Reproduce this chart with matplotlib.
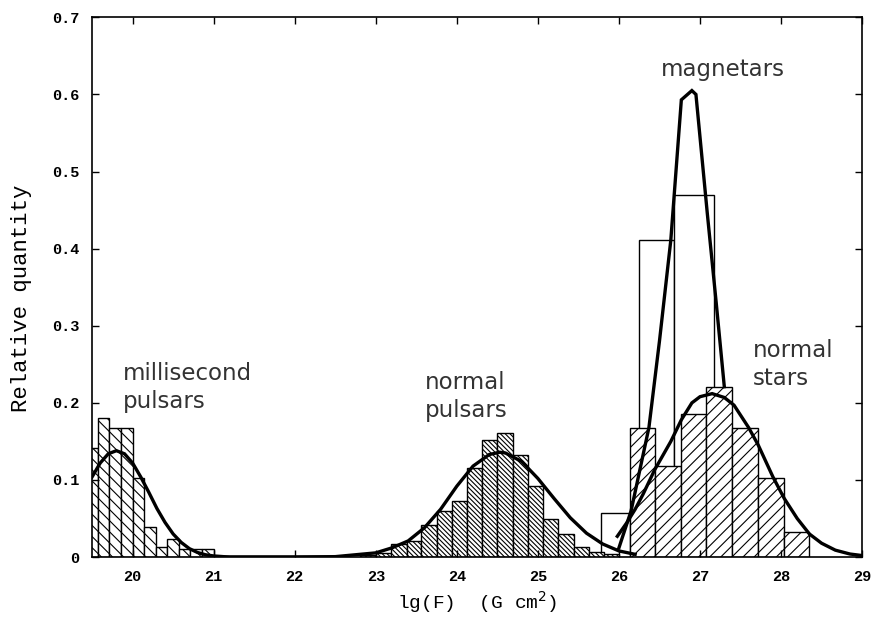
import numpy as np
import matplotlib
matplotlib.use('Agg')
import matplotlib.pyplot as plt

# histogram data (relative quantity per bin)
msp_edges = [19.429, 19.571, 19.714, 19.857, 20.0, 20.143, 20.286, 20.429, 20.571, 20.714, 20.857, 21.0]
msp_values = [0.141, 0.181, 0.168, 0.168, 0.102, 0.039, 0.0125, 0.024, 0.011, 0.011, 0.011]

psr_edges = [22.81, 23.0, 23.19, 23.38, 23.56, 23.75, 23.94, 24.13, 24.31, 24.5,
             24.69, 24.88, 25.06, 25.25, 25.44, 25.63, 25.81, 26.0]
psr_values = [0.003, 0.005, 0.017, 0.021, 0.041, 0.06, 0.073, 0.116, 0.152, 0.161,
              0.132, 0.092, 0.05, 0.030, 0.013, 0.007, 0.004]

mag_left = [25.78, 26.25, 26.68]
mag_right = [26.14, 26.68, 27.17]
mag_values = [0.0575, 0.411, 0.469]

star_edges = [26.14, 26.45, 26.77, 27.08, 27.40, 27.72, 28.04, 28.35]
star_values = [0.168, 0.118, 0.186, 0.22, 0.168, 0.102, 0.033]

# fitted curves
msp_fit_x = [19.5, 19.6, 19.7, 19.8, 19.9, 20.0, 20.1, 20.2, 20.3, 20.4, 20.5,
             20.6, 20.7, 20.8, 20.9, 21.0, 21.2, 22.0, 22.6]
msp_fit_y = [0.104, 0.122, 0.134, 0.138, 0.134, 0.122, 0.104, 0.084, 0.063, 0.045, 0.030,
             0.019, 0.011, 0.006, 0.003, 0.0015, 0.0, 0.0, 0.0]

psr_fit_x = [21.0, 22.0, 22.5, 23.0, 23.2, 23.4, 23.6, 23.8, 24.0, 24.2, 24.4, 24.53,
             24.6, 24.8, 25.0, 25.2, 25.4, 25.6, 25.8, 26.0, 26.2]
psr_fit_y = [0.0, 0.0, 0.0006, 0.0055, 0.012, 0.021, 0.038, 0.062, 0.092, 0.118, 0.133, 0.136,
             0.135, 0.124, 0.102, 0.076, 0.051, 0.031, 0.017, 0.008, 0.0036]

mag_fit_x = [26.0, 26.15, 26.37, 26.5, 26.64, 26.77, 26.9, 26.95, 27.09, 27.2, 27.3]
mag_fit_y = [0.012, 0.06, 0.168, 0.28, 0.411, 0.593, 0.605, 0.6, 0.446, 0.33, 0.221]

star_fit_x = [25.98, 26.1, 26.2, 26.3, 26.44, 26.64, 26.77, 26.9, 27.0, 27.15, 27.3, 27.42,
              27.6, 27.72, 27.9, 28.04, 28.2, 28.35, 28.5, 28.67, 28.85, 29.0]
star_fit_y = [0.027, 0.045, 0.062, 0.082, 0.113, 0.15, 0.178, 0.2, 0.208, 0.212, 0.207, 0.197,
              0.168, 0.145, 0.104, 0.076, 0.05, 0.03, 0.018, 0.009, 0.004, 0.002]

x_ticks = [20, 21, 22, 23, 24, 25, 26, 27, 28, 29]
y_ticks = [0, 0.1, 0.2, 0.3, 0.4, 0.5, 0.6, 0.7]
y_tick_labels = ['0', '0.1', '0.2', '0.3', '0.4', '0.5', '0.6', '0.7']

plt.rcParams['hatch.linewidth'] = 0.8
fig = plt.figure(figsize=(8.77, 6.19), dpi=100)
ax = fig.add_axes([0.105, 0.1, 0.878, 0.872])


def draw_bars(edges, values, hatch):
    edges = np.asarray(edges)
    ax.bar(edges[:-1], values, width=np.diff(edges), align='edge',
           facecolor='white', edgecolor='black', linewidth=1.0, hatch=hatch)


ax.bar(mag_left, mag_values, width=np.subtract(mag_right, mag_left), align='edge',
       facecolor='white', edgecolor='black', linewidth=1.0)
draw_bars(msp_edges, msp_values, '\\\\\\')
draw_bars(psr_edges, psr_values, '\\' * 7)
draw_bars(star_edges, star_values, '///')

for fx, fy in [(msp_fit_x, msp_fit_y), (psr_fit_x, psr_fit_y),
               (mag_fit_x, mag_fit_y), (star_fit_x, star_fit_y)]:
    ax.plot(fx, fy, color='black', linewidth=2.4, solid_joinstyle='miter')

# labels of the populations
label_font = dict(fontsize=16.5, color='#333333', family='DejaVu Sans', linespacing=1.25)
ax.text(19.88, 0.22, 'millisecond\npulsars', ha='left', va='center', **label_font)
ax.text(23.6, 0.208, 'normal\npulsars', ha='left', va='center', **label_font)
ax.text(26.52, 0.632, 'magnetars', ha='left', va='center', **label_font)
ax.text(27.65, 0.25, 'normal\nstars', ha='left', va='center', **label_font)

ax.set_xlim(19.5, 29)
ax.set_ylim(0, 0.7)
ax.set_xticks(x_ticks)
ax.set_yticks(y_ticks)
ax.set_yticklabels(y_tick_labels)
ax.tick_params(direction='in', top=True, right=True, length=5, width=1, pad=9)
for label in ax.get_xticklabels() + ax.get_yticklabels():
    label.set_family('Liberation Mono')
    label.set_fontsize(11)
    label.set_fontweight('bold')
for spine in ax.spines.values():
    spine.set_linewidth(1.2)

ax.set_xlabel(r'lg(F)  (G cm$^2$)', family='Liberation Mono', fontsize=14, labelpad=4)
ax.set_ylabel('Relative quantity', family='Liberation Mono', fontsize=16)
ax.yaxis.set_label_coords(-0.078, 0.48)

fig.savefig('out.png', dpi=100)
